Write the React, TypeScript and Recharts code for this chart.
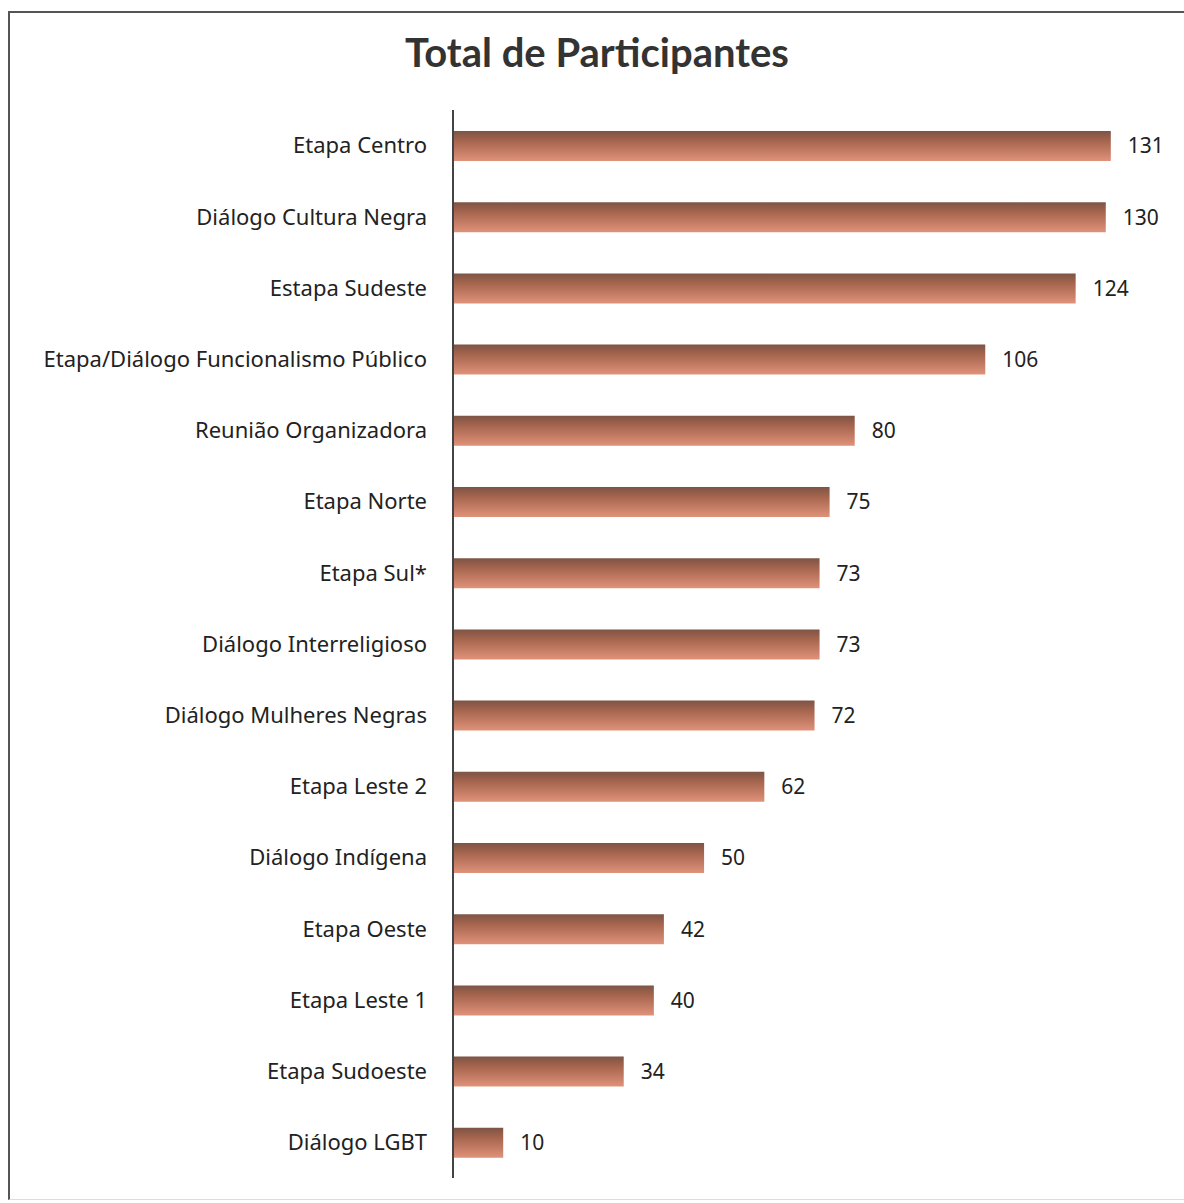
import { BarChart, Bar, XAxis, YAxis, LabelList } from "recharts";

const categories = [
  "Etapa Centro",
  "Diálogo Cultura Negra",
  "Estapa Sudeste",
  "Etapa/Diálogo Funcionalismo Público",
  "Reunião Organizadora",
  "Etapa Norte",
  "Etapa Sul*",
  "Diálogo Interreligioso",
  "Diálogo Mulheres Negras",
  "Etapa Leste 2",
  "Diálogo Indígena",
  "Etapa Oeste",
  "Etapa Leste 1",
  "Etapa Sudoeste",
  "Diálogo LGBT",
];

const participantes = [131, 130, 124, 106, 80, 75, 73, 73, 72, 62, 50, 42, 40, 34, 10];

const data = categories.map((name, i) => ({ name, value: participantes[i] }));

export default function App() {
  return (
    <div
      style={{
        position: "absolute",
        left: 0,
        top: 0,
        width: 1184,
        height: 1203,
        background: "#fff",
        overflow: "hidden",
      }}
    >
      <div
        style={{
          position: "absolute",
          left: 8,
          top: 11,
          width: 1200,
          height: 1186,
          borderTop: "2px solid #555",
          borderLeft: "2px solid #555",
          borderBottom: "1px solid #ddd",
        }}
      />
      <div
        style={{
          position: "absolute",
          left: 0,
          top: 28,
          width: 1194,
          textAlign: "center",
          fontFamily: "Lato, 'Noto Sans', sans-serif",
          fontWeight: 700,
          fontSize: 40,
          color: "#333",
        }}
      >
        Total de Participantes
      </div>
      <div style={{ position: "absolute", left: 0, top: 0 }}>
        <BarChart
          width={1184}
          height={1203}
          data={data}
          layout="vertical"
          margin={{ top: 110, right: 28, bottom: 25, left: 0 }}
          barCategoryGap={0}
        >
          <defs>
            <linearGradient id="barFill" x1="0" y1="0" x2="0" y2="1">
              <stop offset="0%" stopColor="#7d5445" />
              <stop offset="35%" stopColor="#a8664f" />
              <stop offset="100%" stopColor="#e0927a" />
            </linearGradient>
          </defs>
          <XAxis type="number" domain={[0, 140]} hide />
          <YAxis
            type="category"
            dataKey="name"
            width={453}
            axisLine={{ stroke: "#444", strokeWidth: 2 }}
            tickLine={false}
            tickMargin={20}
            interval={0}
            tick={{
              fill: "#222",
              fontSize: 22,
              fontFamily: "'Noto Sans', sans-serif",
            }}
          />
          <Bar
            dataKey="value"
            fill="url(#barFill)"
            barSize={30}
            isAnimationActive={false}
          >
            <LabelList
              dataKey="value"
              position="right"
              offset={17}
              style={{
                fill: "#222",
                fontSize: 21,
                fontFamily: "'Noto Sans', sans-serif",
              }}
            />
          </Bar>
        </BarChart>
      </div>
    </div>
  );
}
